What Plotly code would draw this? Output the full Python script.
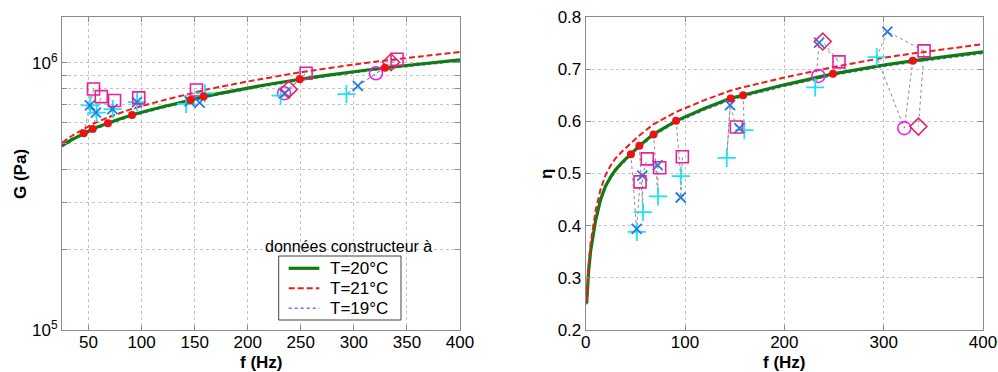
import plotly.graph_objects as go

# ---------------- model curves ----------------
F_CURVE_G = [25, 35, 46, 54, 68, 91, 120, 147, 159, 200, 249, 300, 329, 365, 400]
G_20 = [4.90e5, 5.18e5, 5.45e5, 5.66e5, 5.94e5, 6.38e5, 6.85e5, 7.27e5, 7.48e5, 8.05e5, 8.69e5, 9.27e5, 9.59e5, 9.93e5, 1.026e6]
G_21 = [5.03e5, 5.35e5, 5.67e5, 5.91e5, 6.24e5, 6.73e5, 7.24e5, 7.69e5, 7.91e5, 8.52e5, 9.21e5, 9.86e5, 1.020e6, 1.060e6, 1.100e6]
G_19 = [4.85e5, 5.13e5, 5.40e5, 5.60e5, 5.88e5, 6.32e5, 6.78e5, 7.20e5, 7.41e5, 7.97e5, 8.60e5, 9.18e5, 9.49e5, 9.83e5, 1.016e6]

F_CURVE_ETA = [1, 2, 3, 5, 7.5, 10, 15, 20, 25, 30, 37, 45, 54, 68, 91, 120, 146, 158, 200, 249, 300, 329, 365, 400]
ETA_20 = [0.251, 0.288, 0.315, 0.352, 0.385, 0.410, 0.450, 0.476, 0.493, 0.507, 0.522, 0.537, 0.553, 0.575, 0.601, 0.625, 0.644, 0.650, 0.670, 0.691, 0.708, 0.716, 0.725, 0.733]
ETA_21 = [0.255, 0.296, 0.326, 0.367, 0.402, 0.429, 0.470, 0.497, 0.515, 0.529, 0.543, 0.558, 0.573, 0.594, 0.618, 0.641, 0.659, 0.665, 0.684, 0.704, 0.722, 0.730, 0.739, 0.748]
ETA_19 = [0.249, 0.285, 0.312, 0.349, 0.382, 0.407, 0.447, 0.473, 0.490, 0.504, 0.519, 0.534, 0.550, 0.572, 0.598, 0.622, 0.641, 0.647, 0.667, 0.688, 0.705, 0.713, 0.722, 0.730]

# ---------------- model points at mode frequencies ----------------
MODE_F = [45.5, 54, 68.3, 91, 146, 158.5, 249, 329.3]
MODE_G = [5.45e5, 5.66e5, 5.94e5, 6.38e5, 7.27e5, 7.48e5, 8.69e5, 9.59e5]
MODE_ETA = [0.537, 0.553, 0.575, 0.601, 0.644, 0.650, 0.691, 0.716]

# ---------------- measurements (mode index, f, G, eta) ----------------
CIRC_MODE = [6, 7]
CIRC_F = [234.2, 320.8]
CIRC_G = [7.70e5, 9.15e5]
CIRC_ETA = [0.687, 0.587]

PLUS_MODE = [0, 1, 2, 3, 4, 5, 6, 7]
PLUS_F = [51.5, 57.7, 72.8, 95.7, 142, 159.7, 231, 293]
PLUS_G = [6.94e5, 6.52e5, 6.72e5, 7.13e5, 7.02e5, 7.70e5, 7.55e5, 7.64e5]
PLUS_ETA = [0.388, 0.426, 0.456, 0.495, 0.530, 0.583, 0.665, 0.723]

X_MODE = [0, 1, 2, 3, 4, 5, 6, 7]
X_F = [51.3, 57.0, 72.5, 95.7, 145.3, 154.7, 235, 303.7]
X_G = [6.94e5, 6.52e5, 6.72e5, 7.13e5, 7.18e5, 7.10e5, 7.70e5, 8.20e5]
X_ETA = [0.394, 0.496, 0.516, 0.454, 0.631, 0.587, 0.751, 0.772]

SQ_MODE = [0, 1, 2, 3, 4, 6, 7]
SQ_F = [54.7, 62.0, 74.5, 97.3, 151.7, 255, 340.7]
SQ_G = [7.99e5, 7.48e5, 7.23e5, 7.40e5, 7.92e5, 9.15e5, 1.032e6]
SQ_ETA = [0.484, 0.528, 0.511, 0.532, 0.589, 0.714, 0.735]

DIA_MODE = [6, 7]
DIA_F = [238.7, 335]
DIA_G = [7.96e5, 1.006e6]
DIA_ETA = [0.753, 0.590]

LEGEND_TITLE = "données constructeur à"
LEGEND_NAMES = ["T=20°C", "T=21°C", "T=19°C"]
X_TICKS_G = [50, 100, 150, 200, 250, 300, 350, 400]
Y_TICKS_G = [1e5, 2e5, 3e5, 4e5, 5e5, 6e5, 7e5, 8e5, 9e5, 1e6]
Y_TEXT_G = ["10<sup>5</sup>", " ", " ", " ", " ", " ", " ", " ", " ", "10<sup>6</sup>"]

FONT = "Liberation Sans, Arial, sans-serif"
W, H = 998, 372

fig = go.Figure()

# connection lines (per mode: model point then measurements in series order)
series = [
    (CIRC_MODE, CIRC_F, CIRC_G, CIRC_ETA),
    (PLUS_MODE, PLUS_F, PLUS_G, PLUS_ETA),
    (X_MODE, X_F, X_G, X_ETA),
    (SQ_MODE, SQ_F, SQ_G, SQ_ETA),
    (DIA_MODE, DIA_F, DIA_G, DIA_ETA),
]
for which, (xa, ya) in [(0, ("x", "y")), (1, ("x2", "y2"))]:
    lx, ly = [], []
    for m in range(len(MODE_F)):
        lx.append(MODE_F[m])
        ly.append(MODE_G[m] if which == 0 else MODE_ETA[m])
        for modes, fs, gs, es in series:
            for k, mm in enumerate(modes):
                if mm == m:
                    lx.append(fs[k])
                    ly.append(gs[k] if which == 0 else es[k])
        lx.append(None)
        ly.append(None)
    fig.add_trace(go.Scatter(x=lx, y=ly, mode="lines", xaxis=xa, yaxis=ya,
                             line=dict(color="#8a8a8a", width=1, dash="dot"),
                             showlegend=False, hoverinfo="skip"))

# curves
curve_styles = [
    dict(color="#117a11", width=3.2, dash="solid"),
    dict(color="#ee1c1c", width=2, dash="6px,3px"),
    dict(color="#6a78f0", width=1.5, dash="dot"),
]
G_SETS = [G_20, G_21, G_19]
ETA_SETS = [ETA_20, ETA_21, ETA_19]
for i in [2, 0, 1]:
    fig.add_trace(go.Scatter(x=F_CURVE_G, y=G_SETS[i], mode="lines", xaxis="x", yaxis="y",
                             line=dict(shape="spline", smoothing=0.6, **curve_styles[i]),
                             name=LEGEND_NAMES[i], showlegend=False))
    fig.add_trace(go.Scatter(x=F_CURVE_ETA, y=ETA_SETS[i], mode="lines", xaxis="x2", yaxis="y2",
                             line=dict(shape="linear", **curve_styles[i]),
                             name=LEGEND_NAMES[i], showlegend=False))

markers = [
    (CIRC_F, CIRC_G, CIRC_ETA, dict(symbol="circle-open", size=13, color="#ee22ee", line=dict(width=1.6, color="#ee22ee"))),
    (PLUS_F, PLUS_G, PLUS_ETA, dict(symbol="cross-thin-open", size=13, color="#1ee3f2", line=dict(width=1.8, color="#1ee3f2"))),
    (X_F, X_G, X_ETA, dict(symbol="x-thin-open", size=10, color="#1f7ee6", line=dict(width=1.8, color="#1f7ee6"))),
    (SQ_F, SQ_G, SQ_ETA, dict(symbol="square-open", size=12, color="#e8219a", line=dict(width=1.6, color="#e8219a"))),
    (DIA_F, DIA_G, DIA_ETA, dict(symbol="diamond-open", size=13, color="#e8226a", line=dict(width=1.6, color="#e8226a"))),
]
for fs, gs, es, mk in markers:
    fig.add_trace(go.Scatter(x=fs, y=gs, mode="markers", xaxis="x", yaxis="y", marker=mk, showlegend=False))
    fig.add_trace(go.Scatter(x=fs, y=es, mode="markers", xaxis="x2", yaxis="y2", marker=mk, showlegend=False))

red_dot = dict(symbol="circle", size=8, color="#ee1111")
fig.add_trace(go.Scatter(x=MODE_F, y=MODE_G, mode="markers", xaxis="x", yaxis="y", marker=red_dot, showlegend=False))
fig.add_trace(go.Scatter(x=MODE_F, y=MODE_ETA, mode="markers", xaxis="x2", yaxis="y2", marker=red_dot, showlegend=False))

ydom = [1 - 330 / H, 1 - 17 / H]
axis_common = dict(showline=True, linecolor="#8c8c8c", linewidth=1, mirror="ticks",
                   ticks="inside", ticklen=5, tickcolor="#8c8c8c",
                   showgrid=True, gridcolor="#c4c4c4", gridwidth=1, griddash="dot",
                   zeroline=False, automargin=False,
                   tickfont=dict(family=FONT, size=17, color="#000"))
xaxis_extra = dict(ticklabelstandoff=-3)

def px(x):
    return x / W

def py(y):
    return 1 - y / H

# legend drawn as a framed box with line samples (pixel positions of the page)
shapes = [dict(type="rect", xref="paper", yref="paper", x0=px(278.7), x1=px(401), y0=py(320), y1=py(256),
               line=dict(color="#444", width=1), fillcolor="white", layer="above")]
annotations = [
    dict(text="<b>f (Hz)</b>", x=px(261), y=py(362), xref="paper", yref="paper",
         showarrow=False, xanchor="center", yanchor="middle", font=dict(family=FONT, size=17)),
    dict(text="<b>f (Hz)</b>", x=px(784), y=py(362), xref="paper", yref="paper",
         showarrow=False, xanchor="center", yanchor="middle", font=dict(family=FONT, size=17)),
    dict(text="<b>G (Pa)</b>", x=px(20), y=py(174), xref="paper", yref="paper", textangle=-90,
         showarrow=False, xanchor="center", yanchor="middle", font=dict(family=FONT, size=17)),
    dict(text="<b>η</b>", x=px(546), y=py(174), xref="paper", yref="paper", textangle=-90,
         showarrow=False, xanchor="center", yanchor="middle", font=dict(family=FONT, size=17)),
    dict(text=LEGEND_TITLE, x=px(348), y=py(246), xref="paper", yref="paper",
         showarrow=False, xanchor="center", yanchor="middle", font=dict(family=FONT, size=16)),
]
for i, yc in enumerate([268.3, 288.3, 308.3]):
    st = curve_styles[i]
    shapes.append(dict(type="line", xref="paper", yref="paper", x0=px(288.7), x1=px(319.3), y0=py(yc), y1=py(yc),
                       line=dict(color=st["color"], width=st["width"], dash=st["dash"]), layer="above"))
    annotations.append(dict(text=LEGEND_NAMES[i], x=px(328), y=py(yc), xref="paper", yref="paper",
                            showarrow=False, xanchor="left", yanchor="middle",
                            font=dict(family=FONT, size=17)))

fig.update_layout(
    width=W, height=H, autosize=False,
    margin=dict(l=0, r=0, t=0, b=0),
    paper_bgcolor="white", plot_bgcolor="white",
    font=dict(family=FONT, color="#000"),
    xaxis=dict(domain=[62 / W, 460 / W], range=[25, 400], tickvals=X_TICKS_G, anchor="y",
               **axis_common, **xaxis_extra),
    yaxis=dict(domain=ydom, type="log", range=[5, 6.172], tickvals=Y_TICKS_G, ticktext=Y_TEXT_G,
               anchor="x", **axis_common),
    xaxis2=dict(domain=[585.7 / W, 983 / W], range=[0, 400], tick0=0, dtick=100, anchor="y2",
                **axis_common, **xaxis_extra),
    yaxis2=dict(domain=ydom, range=[0.2, 0.8], tick0=0.2, dtick=0.1, tickformat=".1f", anchor="x2", **axis_common),
    showlegend=False,
    shapes=shapes,
    annotations=annotations,
)

fig.write_html("out.html", config={"displayModeBar": False},
               post_script="document.body.style.margin='0px';document.body.style.overflow='hidden';")
